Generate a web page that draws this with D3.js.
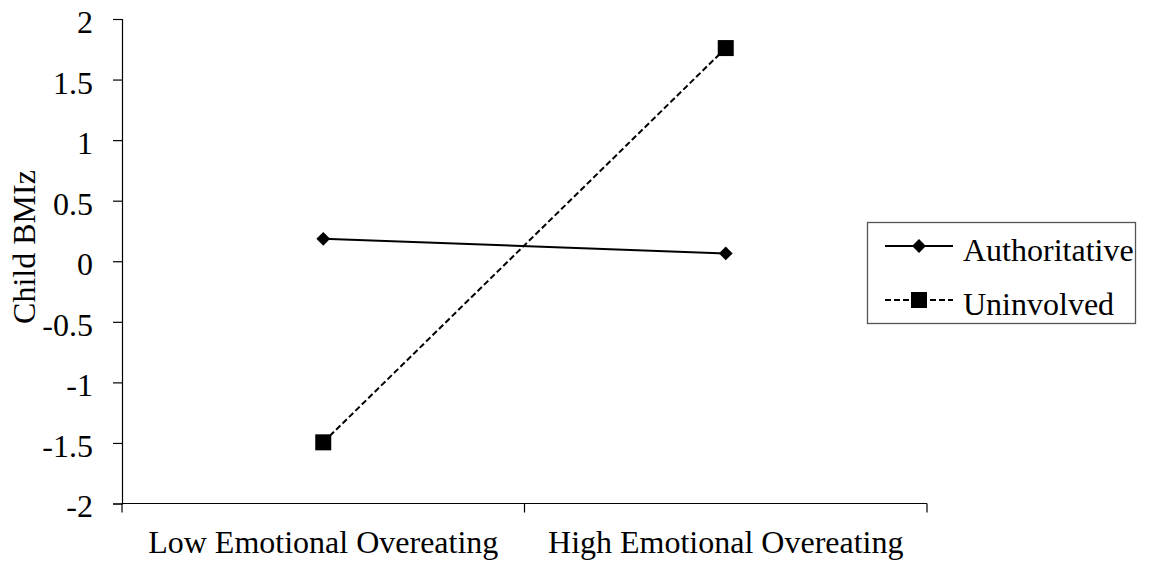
<!DOCTYPE html>
<html>
<head>
<meta charset="utf-8">
<script src="https://cdn.jsdelivr.net/npm/d3@7"></script>
<style>
  body { margin: 0; background: #fff; }
  svg text { font-family: "Liberation Serif", "Times New Roman", serif !important; fill: #000; }
</style>
</head>
<body>
<div id="chart"></div>
<script>
// data
var categories = ["Low Emotional Overeating", "High Emotional Overeating"];
var seriesNames = ["Authoritative", "Uninvolved"];
var authoritative = [0.185, 0.065];
var uninvolved = [-1.495, 1.76];
var yTicks = [-2, -1.5, -1, -0.5, 0, 0.5, 1, 1.5, 2];

var width = 1150, height = 565;
var margin = {top: 19, right: 223, bottom: 62, left: 122};
var innerW = 927 - margin.left, innerH = 503.5 - margin.top;
var fontFam = "Liberation Serif, Times New Roman, serif";

var svg = d3.select("#chart").append("svg")
    .attr("width", width)
    .attr("height", height);

var g = svg.append("g")
    .attr("transform", "translate(" + margin.left + "," + margin.top + ")");

var x = d3.scaleBand()
    .domain(categories)
    .range([0, innerW])
    .padding(0);

var y = d3.scaleLinear()
    .domain([-2, 2])
    .range([innerH, 0]);

// y axis
var yAxis = g.append("g")
    .call(d3.axisLeft(y).tickValues(yTicks).tickSize(9).tickPadding(20)
        .tickFormat(function(d) { return String(d); }));
yAxis.attr("font-family", fontFam).attr("font-size", 32);
yAxis.select(".domain").attr("stroke", "#000").attr("stroke-width", 1.2);
yAxis.selectAll(".tick line").attr("stroke", "#000").attr("stroke-width", 1.2);
yAxis.selectAll(".tick text")
    .attr("font-family", fontFam)
    .style("font-size", "32px")
    .attr("dy", "0.42em");

// x axis - ticks at band edges, labels at band centres
var xAxisG = g.append("g").attr("transform", "translate(0," + innerH + ")");
xAxisG.append("line")
    .attr("x1", 0).attr("x2", innerW)
    .attr("stroke", "#000").attr("stroke-width", 1.2);
var edges = [0].concat(categories.map(function(c) { return x(c) + x.bandwidth(); }));
xAxisG.selectAll(".xtick").data(edges).enter().append("line")
    .attr("x1", function(d) { return d; })
    .attr("x2", function(d) { return d; })
    .attr("y1", 0).attr("y2", 9)
    .attr("stroke", "#000").attr("stroke-width", 1.2);
xAxisG.selectAll(".xlabel").data(categories).enter().append("text")
    .attr("x", function(d) { return x(d) + x.bandwidth() / 2; })
    .attr("y", 49.5)
    .attr("text-anchor", "middle")
    .attr("font-family", fontFam)
    .style("font-size", "32px")
    .text(function(d) { return d; });

// y axis title
svg.append("text")
    .attr("transform", "translate(35,247) rotate(-90)")
    .attr("text-anchor", "middle")
    .attr("font-family", fontFam)
    .style("font-size", "32px")
    .text("Child BMIz");

var line = d3.line()
    .x(function(d, i) { return x(categories[i]) + x.bandwidth() / 2; })
    .y(function(d) { return y(d); });

// Authoritative - solid with diamonds
g.append("path")
    .datum(authoritative)
    .attr("fill", "none")
    .attr("stroke", "#000")
    .attr("stroke-width", 2)
    .attr("d", line);

var diamond = d3.symbol().type(d3.symbolSquare).size(95);
g.selectAll(".diamond").data(authoritative).enter().append("path")
    .attr("d", diamond)
    .attr("transform", function(d, i) {
        return "translate(" + (x(categories[i]) + x.bandwidth() / 2) + "," + y(d) + ") rotate(45)";
    })
    .attr("fill", "#000");

// Uninvolved - dashed with squares
g.append("path")
    .datum(uninvolved)
    .attr("fill", "none")
    .attr("stroke", "#000")
    .attr("stroke-width", 2)
    .attr("stroke-dasharray", "6,3")
    .attr("d", line);

g.selectAll(".sq").data(uninvolved).enter().append("rect")
    .attr("x", function(d, i) { return x(categories[i]) + x.bandwidth() / 2 - 8; })
    .attr("y", function(d) { return y(d) - 8; })
    .attr("width", 16)
    .attr("height", 16)
    .attr("fill", "#000");

// legend
var legend = svg.append("g");
legend.append("rect")
    .attr("x", 867.5).attr("y", 222.5)
    .attr("width", 268).attr("height", 101)
    .attr("fill", "none")
    .attr("stroke", "#555")
    .attr("stroke-width", 1.3);

var legendRows = [
    {name: seriesNames[0], y: 246, dash: null, marker: "diamond"},
    {name: seriesNames[1], y: 300, dash: "6,3", marker: "square"}
];

legendRows.forEach(function(r) {
    legend.append("line")
        .attr("x1", 885).attr("x2", 953)
        .attr("y1", r.y).attr("y2", r.y)
        .attr("stroke", "#000")
        .attr("stroke-width", 2)
        .attr("stroke-dasharray", r.dash);
    if (r.marker === "diamond") {
        legend.append("path")
            .attr("d", diamond)
            .attr("transform", "translate(919," + r.y + ") rotate(45)")
            .attr("fill", "#000");
    } else {
        legend.append("rect")
            .attr("x", 911).attr("y", r.y - 8)
            .attr("width", 16).attr("height", 16)
            .attr("fill", "#000");
    }
    legend.append("text")
        .attr("x", 963)
        .attr("y", r.y + 15)
        .attr("font-family", fontFam)
        .style("font-size", "32px")
        .text(r.name);
});
</script>
</body>
</html>
